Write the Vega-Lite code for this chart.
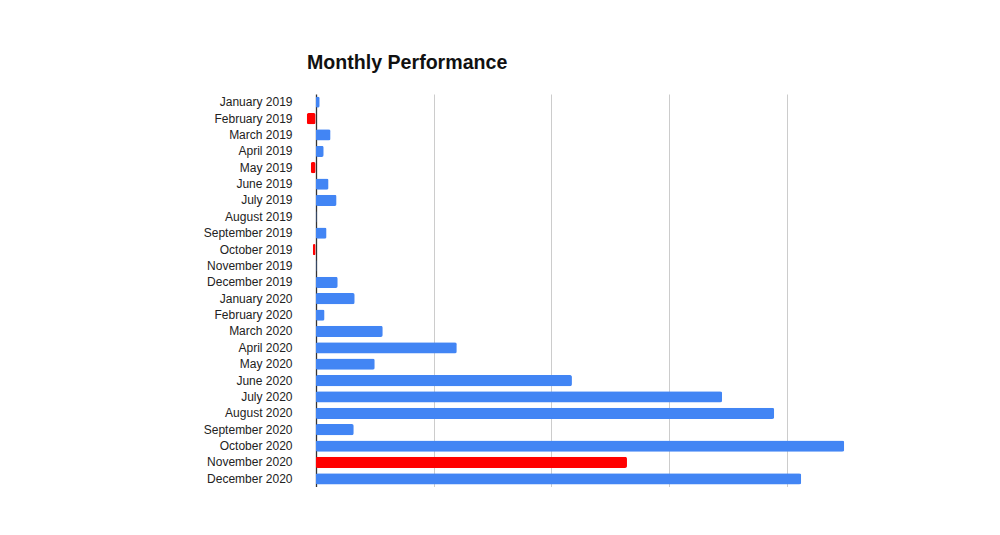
{
  "$schema": "https://vega.github.io/schema/vega-lite/v6.json",
  "autosize": {"type": "none"},
  "padding": {"left": 298, "top": 94, "right": 0, "bottom": 0},
  "width": 554,
  "height": 393,
  "background": "white",
  "title": {
    "text": "Monthly Performance",
    "anchor": "start",
    "frame": "group",
    "dx": 9,
    "offset": 20,
    "font": "Liberation Sans",
    "fontSize": 19.6,
    "fontWeight": "bold",
    "color": "#111111"
  },
  "config": {"view": {"stroke": null}},
  "data": {
    "values": [
      {"month": "January 2019", "value": 3.4, "status": "up"},
      {"month": "February 2019", "value": -7.6, "status": "down"},
      {"month": "March 2019", "value": 12.7, "status": "up"},
      {"month": "April 2019", "value": 6.8, "status": "up"},
      {"month": "May 2019", "value": -4.2, "status": "down"},
      {"month": "June 2019", "value": 11.0, "status": "up"},
      {"month": "July 2019", "value": 17.8, "status": "up"},
      {"month": "August 2019", "value": 0.8, "status": "up"},
      {"month": "September 2019", "value": 9.3, "status": "up"},
      {"month": "October 2019", "value": -2.5, "status": "down"},
      {"month": "November 2019", "value": 0.8, "status": "up"},
      {"month": "December 2019", "value": 18.7, "status": "up"},
      {"month": "January 2020", "value": 33.1, "status": "up"},
      {"month": "February 2020", "value": 7.6, "status": "up"},
      {"month": "March 2020", "value": 56.9, "status": "up"},
      {"month": "April 2020", "value": 119.7, "status": "up"},
      {"month": "May 2020", "value": 50.1, "status": "up"},
      {"month": "June 2020", "value": 217.4, "status": "up"},
      {"month": "July 2020", "value": 344.8, "status": "up"},
      {"month": "August 2020", "value": 389.0, "status": "up"},
      {"month": "September 2020", "value": 32.3, "status": "up"},
      {"month": "October 2020", "value": 448.4, "status": "up"},
      {"month": "November 2020", "value": 264.1, "status": "down"},
      {"month": "December 2020", "value": 411.9, "status": "up"}
    ]
  },
  "mark": {"type": "bar", "cornerRadius": 2},
  "encoding": {
    "y": {
      "field": "month",
      "type": "nominal",
      "sort": null,
      "scale": {"paddingInner": 0.32, "paddingOuter": 0.16},
      "axis": {
        "title": null,
        "domain": false,
        "ticks": false,
        "labelPadding": 6,
        "labelFont": "Liberation Sans",
        "labelFontSize": 12,
        "labelColor": "#222222"
      }
    },
    "x": {
      "field": "value",
      "type": "quantitative",
      "scale": {"domain": [-15, 455], "nice": false, "zero": false},
      "axis": {
        "title": null,
        "labels": false,
        "ticks": false,
        "domain": false,
        "values": [0, 100, 200, 300, 400],
        "grid": true,
        "gridColor": {"condition": {"test": "datum.value === 0", "value": "#333333"}, "value": "#cccccc"},
        "gridWidth": {"condition": {"test": "datum.value === 0", "value": 1.3}, "value": 1}
      }
    },
    "color": {
      "field": "status",
      "type": "nominal",
      "scale": {"domain": ["up", "down"], "range": ["#4285f4", "#ff0000"]},
      "legend": null
    }
  }
}
